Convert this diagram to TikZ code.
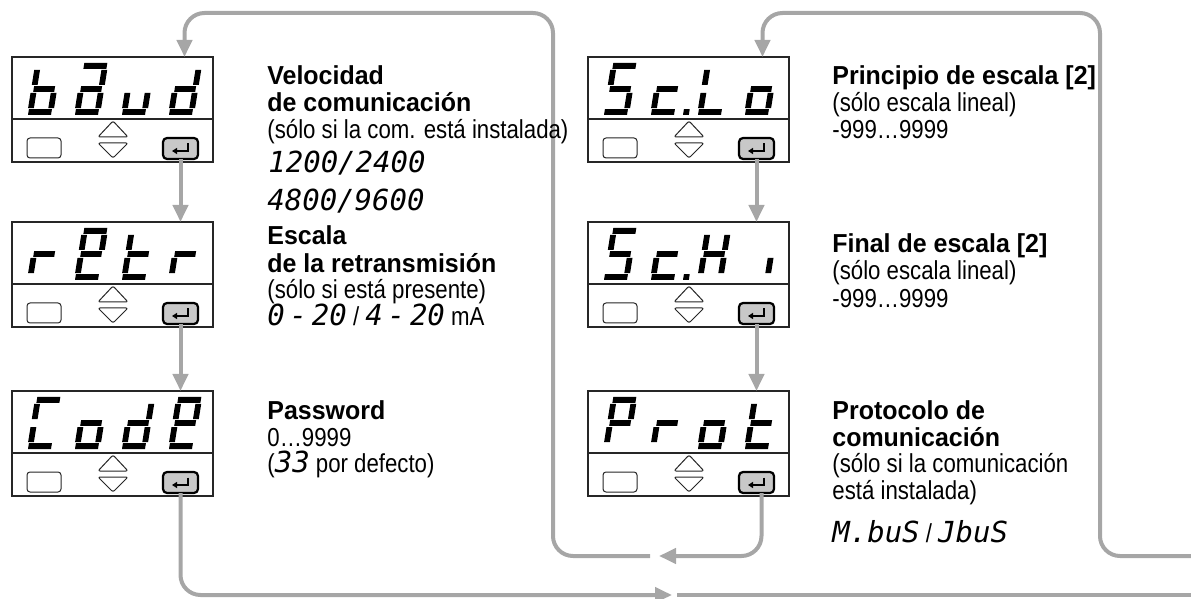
\documentclass[tikz,border=0pt]{standalone}
\usepackage{fontspec}
\setmainfont{Liberation Sans}
\newfontfamily\regf{Liberation Sans}[FakeStretch=0.855]
\newfontfamily\boldf{Liberation Sans}[FakeStretch=0.96]
\newfontfamily\digf{DejaVu Sans Mono}
\usetikzlibrary{arrows.meta}
\definecolor{flowgray}{RGB}{166,166,166}
\definecolor{keygray}{RGB}{200,200,200}
\newcommand\sg[1]{{\digf\itshape\fontsize{14.5}{17}\selectfont #1}}
% seven-segment pieces (local px, origin bottom-left, y downwards)
\def\sgma{\fill (2,-52) rectangle (25,-46.2);}
\def\sgmg{\fill (2.5,-28.9) rectangle (23.5,-23.1);}
\def\sgmd{\fill (1,-5.8) rectangle (24,0);}
\def\sgmf{\fill (0,-45) rectangle (5.8,-30);}
\def\sgmb{\fill (20.2,-45) rectangle (26,-30);}
\def\sgme{\fill (0,-22) rectangle (5.8,-6.8);}
\def\sgmc{\fill (20.2,-22) rectangle (26,-6.8);}
\def\sgmp{\fill (33,-5.8) rectangle (38.8,0);}
\newcommand\dispunit[3]{%
  \node[unitbox,anchor=north west] (#1) at (#2) {};
  \begin{scope}[shift={(#1.north west)}]
    \draw[boxline] (0,62) -- (201,62);
    \draw[keyb] (15,81) rectangle (49,101);
    \draw[tri] (86,80) -- (101,64) -- (116,80) -- cycle;
    \draw[tri] (86,86) -- (101,101) -- (116,86) -- cycle;
    \node[enterkey] (#1E) at (168.5,91.5) {};
    \draw[entersym] (176,86.5) -- (176,94) -- (160,94);
    \foreach \g [count=\i from 0] in {#3} {
      \begin{scope}[shift={({15+47*\i},58)}, xslant=0.16]
        \foreach \s in \g {\csname sgm\s\endcsname}
      \end{scope}
    }
  \end{scope}
}
\begin{document}
\begin{tikzpicture}[x=0.5pt,y=-0.5pt,
  unitbox/.style={draw=black!85, line width=0.6pt, fill=white, minimum width=100.5pt, minimum height=52.5pt, inner sep=0pt, outer sep=0pt},
  boxline/.style={draw=black!85, line width=0.6pt},
  keyb/.style={draw=black!85, line width=0.5pt, rounded corners=1.5pt},
  tri/.style={draw=black!85, line width=0.5pt, rounded corners=1pt, line join=round},
  enterkey/.style={draw=black, fill=keygray, line width=1.1pt, rounded corners=2pt, minimum width=17.5pt, minimum height=10.5pt, inner sep=0pt, outer sep=0pt},
  entersym/.style={draw=black, line width=0.8pt, -{Triangle[length=2.5pt,width=3pt]}},
  flow/.style={draw=flowgray, line width=2pt, rounded corners=10pt},
  arr/.style={flow, -{Triangle[length=8.5pt,width=7.5pt]}},
  txt/.style={anchor=base west, inner sep=0pt, font=\regf\fontsize{13}{15}\selectfont},
  hd/.style={anchor=base west, inner sep=0pt, font=\boldf\bfseries\fontsize{13}{15}\selectfont}]
\useasboundingbox (0,0) rectangle (1191,599);

% display units
\dispunit{bdud}{12,57}{{c,d,e,f,g},{a,b,c,d,e,g},{c,d,e},{b,c,d,e,g}}
\dispunit{retr}{12,222}{{e,g},{a,b,d,e,f,g},{d,e,f,g},{e,g}}
\dispunit{code}{12,391}{{a,d,e,f},{c,d,e,g},{b,c,d,e,g},{a,b,d,e,f,g}}
\dispunit{sclo}{588,57}{{a,c,d,f,g},{d,e,g,p},{d,e,f},{c,d,e,g}}
\dispunit{schi}{588,222}{{a,c,d,f,g},{d,e,g,p},{b,c,e,f,g},{c}}
\dispunit{prot}{588,391}{{a,b,e,f,g},{e,g},{c,d,e,g},{d,e,f,g}}

% junctions and loop corners
\coordinate (ja) at (659,556);
\coordinate (jaL) at (650,556);
\coordinate (jb) at (672,595);
\coordinate (jbR) at (677,595);
\coordinate (loopL) at (553,13);
\coordinate (loopR) at (1100,13);
\coordinate (edgeA) at (1196,556);
\coordinate (edgeB) at (1196,595);
\path (bdud.north -| bdudE) ++(4,0) coordinate (in1);
\path (sclo.north -| scloE) ++(6,0) coordinate (in2);

% connectors
\draw[arr] (bdudE.south) -- (bdudE.south |- retr.north);
\draw[arr] (retrE.south) -- (retrE.south |- code.north);
\draw[arr] (scloE.south) -- (scloE.south |- schi.north);
\draw[arr] (schiE.south) -- (schiE.south |- prot.north);
\draw[arr] (codeE.south) |- (jb);
\draw[flow] (jbR) -- (edgeB);
\draw[arr] (protE.south) ++(5,0) |- (ja);
\draw[arr] (jaL) -| (loopL) -| (in1);
\draw[arr] (edgeA) -| (loopR) -| (in2);

% texts, left column
\node[hd]  (t1) at (267,85)  {Velocidad};
\node[hd]  (t2) at (267,112) {de comunicación};
\node[txt] (t3) at (267,139) {(sólo si la com. está instalada)};
\node[txt] (t4) at (268,173) {\sg{1200/2400}};
\node[txt] (t5) at (267,211) {\sg{4800/9600}};
\node[hd]  (t6) at (267,245) {Escala};
\node[hd]  (t7) at (267,272) {de la retransmisión};
\node[txt] (t8) at (267,299) {(sólo si está presente)};
\node[txt] (t9) at (267,326) {\sg{0\,-\,20} / \sg{4\,-\,20} mA};
\node[hd]  (t10) at (267,419) {Password};
\node[txt] (t11) at (267,446) {0…9999};
\node[txt] (t12) at (267,473) {(\sg{33} por defecto)};
% texts, right column
\node[hd]  (u1) at (832,85)  {Principio de escala [2]};
\node[txt] (u2) at (832,112) {(sólo escala lineal)};
\node[txt] (u3) at (832,139) {-999…9999};
\node[hd]  (u4) at (832,253) {Final de escala [2]};
\node[txt] (u5) at (832,280) {(sólo escala lineal)};
\node[txt] (u6) at (832,307) {-999…9999};
\node[hd]  (u7) at (832,419) {Protocolo de};
\node[hd]  (u8) at (832,446) {comunicación};
\node[txt] (u9) at (832,473) {(sólo si la comunicación};
\node[txt] (u10) at (832,500) {está instalada)};
\node[txt] (u11) at (832,542) {\sg{M.buS} / \sg{JbuS}};
\end{tikzpicture}
\end{document}
